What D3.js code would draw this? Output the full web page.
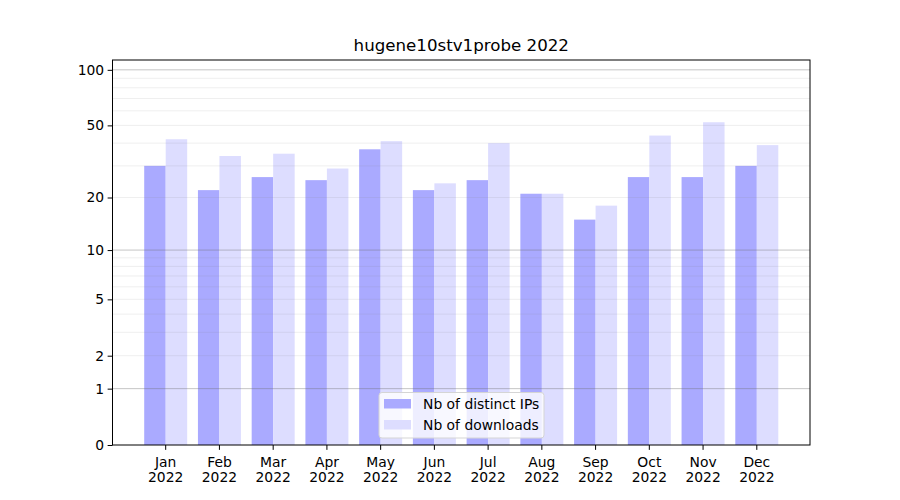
<!DOCTYPE html>
<html>
<head>
<meta charset="utf-8">
<script src="https://cdn.jsdelivr.net/npm/d3@7"></script>
<style>
  body { margin: 0; background: #fff; }
  svg { display: block; font-family: "DejaVu Sans", sans-serif; }
</style>
</head>
<body>
<svg id="chart" width="900" height="500"></svg>
<script>
const months = ["Jan","Feb","Mar","Apr","May","Jun","Jul","Aug","Sep","Oct","Nov","Dec"];
const yearLabel = "2022";
const distinctIPs = [30, 22, 26, 25, 37, 22, 25, 21, 15, 26, 26, 30];
const downloads   = [42, 34, 35, 29, 41, 24, 40, 21, 18, 44, 52, 39];
const yTicks = [0, 1, 2, 5, 10, 20, 50, 100];
const majorGrid = [1, 10, 100];
const minorGrid = [2, 3, 4, 5, 6, 7, 8, 9, 20, 30, 40, 50, 60, 70, 80, 90];
const title = "hugene10stv1probe 2022";
const seriesNames = ["Nb of distinct IPs", "Nb of downloads"];

const svg = d3.select("#chart");
const L = 112.5, R = 810, T = 60, B = 445;
const FS = "13.89px";

const x = d3.scaleBand().domain(months).range([L, R]).paddingInner(0).paddingOuter(0.49);
const y = d3.scaleSymlog().constant(1).domain([0, 113]).range([B, T]);
const bw = x.bandwidth() * 0.4;
const cx = m => x(m) + x.bandwidth() / 2;

// bars
svg.append("g").selectAll("rect").data(months).join("rect")
  .attr("x", m => cx(m) - bw).attr("width", bw)
  .attr("y", (m, i) => y(distinctIPs[i])).attr("height", (m, i) => B - y(distinctIPs[i]))
  .attr("fill", "#aaaaff");
svg.append("g").selectAll("rect").data(months).join("rect")
  .attr("x", m => cx(m)).attr("width", bw)
  .attr("y", (m, i) => y(downloads[i])).attr("height", (m, i) => B - y(downloads[i]))
  .attr("fill", "#ddddff");

// grid
svg.append("g").selectAll("line").data(minorGrid).join("line")
  .attr("x1", L).attr("x2", R).attr("y1", d => y(d)).attr("y2", d => y(d))
  .attr("stroke", "rgba(128,128,128,0.13)").attr("stroke-width", 1);
svg.append("g").selectAll("line").data(majorGrid).join("line")
  .attr("x1", L).attr("x2", R).attr("y1", d => y(d)).attr("y2", d => y(d))
  .attr("stroke", "rgba(110,110,110,0.4)").attr("stroke-width", 1);

// axes
const xAxis = svg.append("g").attr("transform", `translate(0,${B})`)
  .call(d3.axisBottom(x).tickSize(4.86).tickSizeOuter(0).tickPadding(3));
xAxis.select(".domain").remove();
xAxis.selectAll("text").attr("font-size", FS).attr("fill", "#000")
  .attr("font-family", "DejaVu Sans").attr("y", 0).attr("dy", null)
  .each(function(d) {
    const t = d3.select(this); t.text(null);
    t.append("tspan").attr("x", 0).attr("dy", "21.7px").text(d);
    t.append("tspan").attr("x", 0).attr("dy", "15px").text(yearLabel);
  });
xAxis.selectAll("line").attr("stroke", "#000");

const yAxis = svg.append("g").attr("transform", `translate(${L},0)`)
  .call(d3.axisLeft(y).tickValues(yTicks).tickFormat(d3.format("d")).tickSize(4.86).tickSizeOuter(0).tickPadding(3.5));
yAxis.select(".domain").remove();
yAxis.selectAll("text").attr("font-size", FS).attr("fill", "#000").attr("font-family", "DejaVu Sans");
yAxis.selectAll("line").attr("stroke", "#000");

svg.append("rect").attr("x", L).attr("y", T).attr("width", R - L).attr("height", B - T)
  .attr("fill", "none").attr("stroke", "#000").attr("stroke-width", 1);

// title
svg.append("text").attr("x", (L + R) / 2).attr("y", 51).attr("text-anchor", "middle")
  .attr("font-size", "16.67px").attr("fill", "#000").text(title);

// legend
const lg = svg.append("g");
lg.append("rect").attr("x", 379).attr("y", 392.5).attr("width", 165).attr("height", 45.5)
  .attr("rx", 3).attr("fill", "rgba(255,255,255,0.8)").attr("stroke", "#d5d5d5").attr("stroke-width", 1);
const colors = ["#aaaaff", "#ddddff"];
seriesNames.forEach((n, i) => {
  const yy = 399 + i * 21;
  lg.append("rect").attr("x", 384).attr("y", yy).attr("width", 27).attr("height", 9.5).attr("fill", colors[i]);
  lg.append("text").attr("x", 423).attr("y", yy + 9.8).attr("font-size", FS).attr("fill", "#000").text(n);
});
</script>
</body>
</html>
